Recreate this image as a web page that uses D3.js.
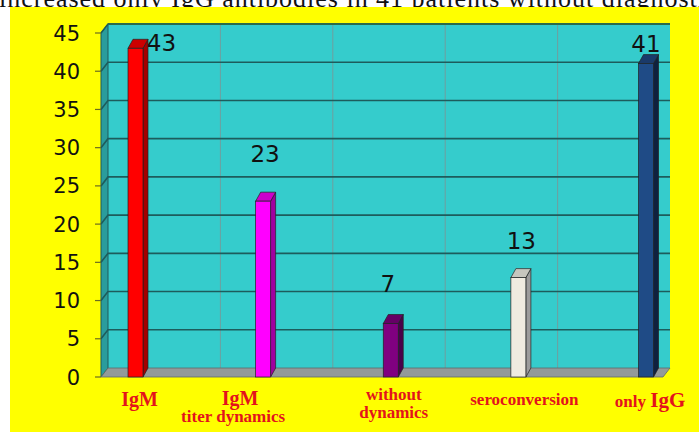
<!DOCTYPE html>
<html>
<head>
<meta charset="utf-8">
<script src="https://cdn.jsdelivr.net/npm/d3@7"></script>
<style>
  html, body { margin: 0; padding: 0; background: #fff; }
  svg { display: block; }
</style>
</head>
<body>
<div class="chart"></div>
<script>
"use strict";

// data
const categories = ["IgM", "IgM titer dynamics", "without dynamics", "seroconversion", "only IgG"];
const values = [43, 23, 7, 13, 41];
const yTicks = [0, 5, 10, 15, 20, 25, 30, 35, 40, 45];
const barFront = ["#ff0000", "#ff00ff", "#800080", "#efebe0", "#1f4b86"];
const barSide = ["#a40000", "#a000a0", "#4a004a", "#9c9c9c", "#0f213f"];
const barTop = ["#cc0000", "#cc00cc", "#660066", "#c6c6be", "#1a3a6a"];
const titleText = "increased only IgG antibodies in 41 patients without diagnosti";

(function () {
    const width = 699, height = 432;

    // 3D geometry
    const x0 = 101, xBackRight = 670;
    const depth = { dx: 7, dy: -9 };
    const barDepth = { dx: 5, dy: -9 };
    const barW = 15;

    const svg = d3.select(".chart").append("svg")
        .attr("width", width)
        .attr("height", height);

    // cut-off text line from the page above
    svg.append("text")
        .attr("x", -1)
        .attr("y", 7)
        .attr("font-family", "Liberation Serif, serif")
        .attr("font-size", 26)
        .attr("fill", "#111")
        .attr("textLength", 706)
        .text(titleText);

    svg.append("rect")
        .attr("x", 10).attr("y", 7)
        .attr("width", width - 10).attr("height", height - 7)
        .attr("fill", "#ffff00");

    const y = d3.scaleLinear().domain([0, 45]).range([377, 33]);
    const x = d3.scalePoint().domain(categories).range([135.5, 646]);

    const poly = pts => pts.map(p => p.join(",")).join(" ");

    // back wall
    svg.append("polygon")
        .attr("points", poly([
            [x0 + depth.dx, y(45) + depth.dy], [xBackRight, y(45) + depth.dy],
            [xBackRight, y(0) + depth.dy], [x0 + depth.dx, y(0) + depth.dy]
        ]))
        .attr("fill", "#35cccc");

    // vertical gridlines on back wall
    const vStep = (xBackRight - x0 - depth.dx) / categories.length;
    svg.append("g").selectAll("line")
        .data(d3.range(1, categories.length))
        .join("line")
        .attr("x1", i => x0 + depth.dx + i * vStep)
        .attr("x2", i => x0 + depth.dx + i * vStep)
        .attr("y1", y(45) + depth.dy)
        .attr("y2", y(0) + depth.dy)
        .attr("stroke", "#6f9f9f")
        .attr("stroke-width", 1);

    // left side wall
    svg.append("polygon")
        .attr("points", poly([
            [x0, y(45)], [x0 + depth.dx, y(45) + depth.dy],
            [x0 + depth.dx, y(0) + depth.dy], [x0, y(0)]
        ]))
        .attr("fill", "#2a9c9c")
        .attr("stroke", "#1e5a5a")
        .attr("stroke-width", 1);

    // horizontal gridlines (side wall + back wall)
    const grid = svg.append("g");
    grid.selectAll("polyline")
        .data(yTicks.filter(t => t > 0))
        .join("polyline")
        .attr("points", t => poly([
            [x0, y(t)], [x0 + depth.dx, y(t) + depth.dy], [xBackRight, y(t) + depth.dy]
        ]))
        .attr("fill", "none")
        .attr("stroke", "#1d5c5c")
        .attr("stroke-width", 1.6);

    // top border of the back wall
    svg.append("line")
        .attr("x1", x0 + depth.dx).attr("x2", xBackRight)
        .attr("y1", y(45) + depth.dy).attr("y2", y(45) + depth.dy)
        .attr("stroke", "#2b6b4a").attr("stroke-width", 2);

    // floor
    svg.append("polygon")
        .attr("points", poly([
            [x0, y(0)], [xBackRight - depth.dx, y(0)],
            [xBackRight, y(0) + depth.dy], [x0 + depth.dx, y(0) + depth.dy]
        ]))
        .attr("fill", "#939a9a")
        .attr("stroke", "#5d6a6a")
        .attr("stroke-width", 0.8);

    // y axis ticks and labels
    const axis = svg.append("g");
    axis.selectAll("line")
        .data(yTicks)
        .join("line")
        .attr("x1", 95).attr("x2", x0)
        .attr("y1", d => y(d)).attr("y2", d => y(d))
        .attr("stroke", "#6b6b20")
        .attr("stroke-width", 1.2);
    axis.selectAll("text")
        .data(yTicks)
        .join("text")
        .attr("x", 80)
        .attr("y", d => y(d) + 7.5)
        .attr("text-anchor", "end")
        .attr("font-family", "DejaVu Sans, sans-serif")
        .attr("font-size", 21)
        .attr("fill", "#111")
        .text(d => d);

    // bars
    const rows = categories.map((c, i) => ({ c, v: values[i], i }));
    const bars = svg.append("g").selectAll("g")
        .data(rows)
        .join("g");

    const left = d => x(d.c) - barW / 2;
    const right = d => x(d.c) + barW / 2;

    bars.append("polygon")
        .attr("points", d => poly([
            [right(d), y(d.v)], [right(d) + barDepth.dx, y(d.v) + barDepth.dy],
            [right(d) + barDepth.dx, y(0) + barDepth.dy], [right(d), y(0)]
        ]))
        .attr("fill", d => barSide[d.i])
        .attr("stroke", "#222").attr("stroke-width", 0.7);
    bars.append("polygon")
        .attr("points", d => poly([
            [left(d), y(d.v)], [left(d) + barDepth.dx, y(d.v) + barDepth.dy],
            [right(d) + barDepth.dx, y(d.v) + barDepth.dy], [right(d), y(d.v)]
        ]))
        .attr("fill", d => barTop[d.i])
        .attr("stroke", "#222").attr("stroke-width", 0.7);
    bars.append("rect")
        .attr("x", left)
        .attr("y", d => y(d.v))
        .attr("width", barW)
        .attr("height", d => y(0) - y(d.v))
        .attr("fill", d => barFront[d.i])
        .attr("stroke", "#222").attr("stroke-width", 0.7);

    // value labels (nudges only to follow the original placement)
    const labelNudge = [[26, 3], [2, -39], [-3, -31], [3, -29], [0, -12]];
    bars.append("text")
        .attr("x", d => x(d.c) + labelNudge[d.i][0])
        .attr("y", d => y(d.v) + labelNudge[d.i][1])
        .attr("text-anchor", "middle")
        .attr("font-family", "DejaVu Sans, sans-serif")
        .attr("font-size", 23)
        .attr("fill", "#111")
        .text(d => d.v);

    // category labels
    const catLines = [
        [["IgM", 20]],
        [["IgM", 20], ["titer dynamics", 17]],
        [["without", 17], ["dynamics", 17]],
        [["seroconversion", 17]],
        [["only ", 17, "IgG", 21]]
    ];
    const catDx = [4, -23, 3, 6, 4];
    const catY = [406, 405, 400, 405, 407];
    const cats = svg.append("g").selectAll("text")
        .data(rows)
        .join("text")
        .attr("x", d => x(d.c) + catDx[d.i])
        .attr("y", d => catY[d.i])
        .attr("text-anchor", "middle")
        .attr("font-family", "Liberation Serif, serif")
        .attr("font-weight", "bold")
        .attr("fill", "#e3131c");

    cats.each(function (d) {
        const t = d3.select(this);
        const lines = catLines[d.i];
        if (d.i === 4) {
            const l = lines[0];
            t.append("tspan").attr("font-size", l[1]).text(l[0]);
            t.append("tspan").attr("font-size", l[3]).text(l[2]);
            return;
        }
        lines.forEach((l, k) => {
            t.append("tspan")
                .attr("x", x(d.c) + catDx[d.i] + (d.i === 1 && k === 1 ? -7 : 0))
                .attr("dy", k === 0 ? 0 : (d.i === 1 ? 17 : 18))
                .attr("font-size", l[1])
                .text(l[0]);
        });
    });
})();
</script>
</body>
</html>
